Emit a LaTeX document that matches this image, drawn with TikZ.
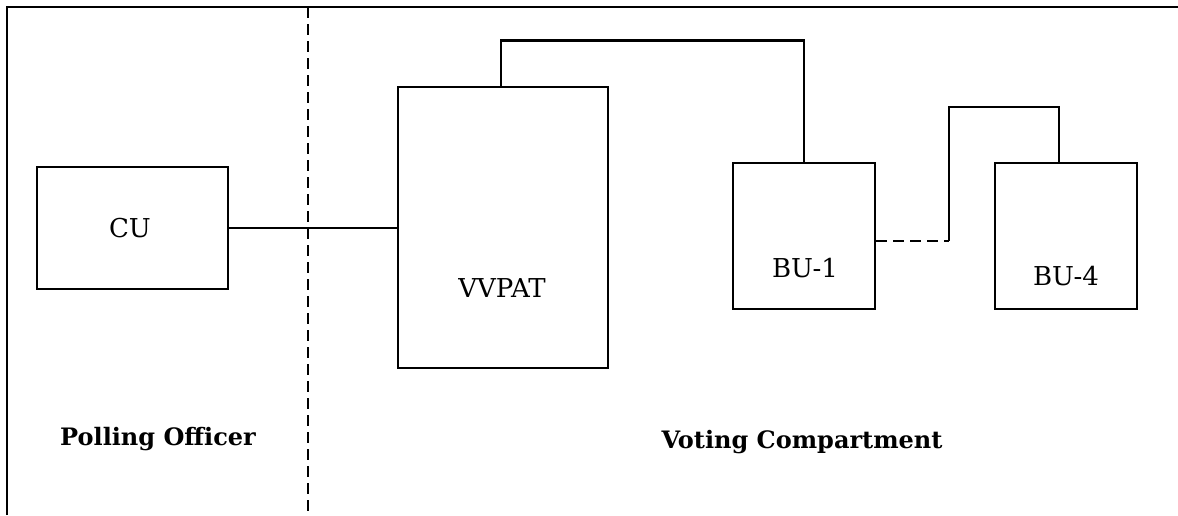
\documentclass[tikz,border=0pt]{standalone}
\usepackage{fontspec}
\setmainfont{DejaVu Serif}

\tikzset{
  unit/.style={draw, inner sep=0pt},
  unitname/.style={anchor=base, font=\fontsize{13}{15}\selectfont},
  area/.style={anchor=base, font=\fontsize{12}{14}\selectfont\bfseries},
  split/.style={dash pattern=on 5.5pt off 3pt}
}

\begin{document}
\begin{tikzpicture}[x=0.5pt, y=-0.5pt, line width = 1.4pt]

\useasboundingbox (0,0) rectangle (1178,515);

\draw (7,515) -- (7,7) -- (1178,7);

\draw[split] (308,7) -- (308,515);

\node[unit, minimum width=95.5pt, minimum height=61pt] (cu) at (132.5,228) {};
\node[unit, minimum width=105pt, minimum height=140.5pt] (vvpat) at (503,227.5) {};
\node[unit, minimum width=71pt, minimum height=73pt] (bu1) at (804,236) {};
\node[unit, minimum width=71pt, minimum height=73pt] (bu4) at (1066,236) {};

\node[unitname] (cutext) at (130,237) {CU};
\node[unitname] (vvpattext) at (502,297) {VVPAT};
\node[unitname] (bu1text) at (805,277) {BU-1};
\node[unitname] (bu4text) at (1066,285) {BU-4};

\node[area] (officer) at (158,445) {Polling Officer};
\node[area] (compartment) at (802,448) {Voting Compartment};

\coordinate (bend) at (949,241);

\draw (cu.east) -- (cu.east -| vvpat.west);
\draw ([xshift=-1pt]vvpat.north) -- ++(0,-45) -| (bu1.north);
\draw[split] (bend -| bu1.east) -- (bend);
\draw (bend) -- ++(0,-134) -| ([xshift=-3.5pt]bu4.north);

\end{tikzpicture}
\end{document}
